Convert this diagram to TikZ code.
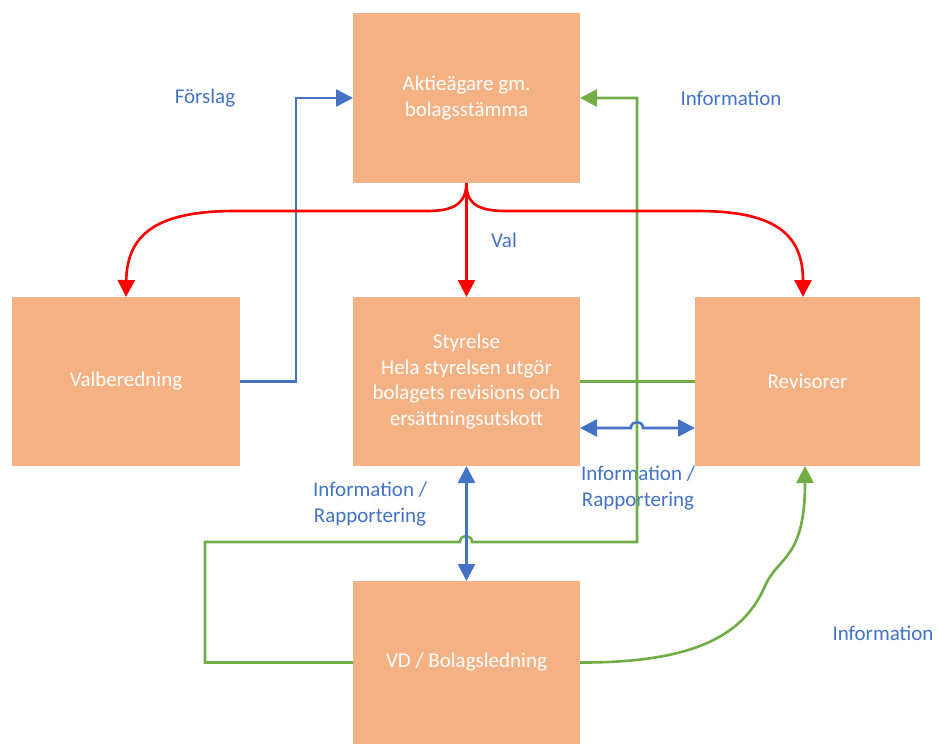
\documentclass[tikz,border=0pt]{standalone}
\usepackage{fontspec}
\setmainfont{Carlito}
\usetikzlibrary{arrows.meta}
\definecolor{boxfill}{HTML}{F4B183}
\definecolor{offblue}{HTML}{4472C4}
\definecolor{offgreen}{HTML}{70AD47}
\definecolor{offred}{HTML}{FF0000}
\tikzset{
  orgbox/.style={fill=boxfill, draw=none, inner sep=0pt, outer sep=0pt, text=white, align=center, font=\fontsize{21}{25.5}\selectfont},
  lbl/.style={text=offblue, align=center, font=\fontsize{21}{25.5}\selectfont, inner sep=0pt},
  tip/.style={-{Triangle[length=17pt,width=17pt]}},
  dtip/.style={{Triangle[length=17pt,width=17pt]}-{Triangle[length=17pt,width=17pt]}},
  redline/.style={draw=offred, line width=2.6pt},
  blueline/.style={draw=offblue, line width=2.6pt},
  greenline/.style={draw=offgreen, line width=2.6pt},
}
\begin{document}
\begin{tikzpicture}[x=1pt,y=-1pt]
\useasboundingbox (0,0) rectangle (937,744);
% boxes
\node[orgbox, minimum width=227pt, minimum height=170pt] (aktie) at (466.5,98) {Aktieägare gm.\\bolagsstämma};
\node[orgbox, minimum width=228pt, minimum height=169pt] (valb) at (126,381.5) {Valberedning};
\node[orgbox, minimum width=227pt, minimum height=169pt] (styr) at (466.5,381.5) {Styrelse\\Hela styrelsen utgör\\bolagets revisions och\\ersättningsutskott};
\node[orgbox, minimum width=225pt, minimum height=169pt] (revis) at (807.5,381.5) {Revisorer};
\node[orgbox, minimum width=227pt, minimum height=163pt] (vd) at (466.5,662.5) {VD / Bolagsledning};
% labels
\node[lbl] (lforslag) at (205,98) {Förslag};
\node[lbl] (linfo1) at (731,98) {Information};
\node[lbl] (lval) at (504,240) {Val};
\node[lbl] (linfo2) at (370,504) {Information /\\Rapportering};
\node[lbl] (linfo3) at (638,488) {Information /\\Rapportering};
\node[lbl] (linfo4) at (883,633) {Information};
% green lines (behind)
\draw[greenline] (styr.east) -- (revis.west);
\draw[greenline, tip] (vd.west) -- ++(-148,0) -- (205,542) -- (460,542)
  .. controls (460,534) and (472,534) .. (472,542) -- (637,542) -- (637,98) -- (aktie.east);
\draw[greenline, tip] (vd.east) .. controls (700,663) and (745,632) .. (765,586)
  .. controls (778,556) and (805,560) .. ([xshift=-2.5pt]revis.south);
% blue
\draw[blueline, tip] (valb.east) -- (296,381.5) |- (aktie.west);
\draw[blueline, dtip] ([yshift=-46.5pt]styr.east) -- (631,428)
  .. controls (631,420) and (643,420) .. (643,428) -- ([yshift=-46.5pt]revis.west);
\draw[blueline, dtip] (styr.south) -- (vd.north);
% red
\draw[redline, tip] (aktie.south) -- (styr.north);
\draw[redline, tip] (aktie.south) .. controls (466,205) and (452,211) .. (427,211) -- (235,211)
  .. controls (160,211) and (127,232) .. (valb.north);
\draw[redline, tip] (aktie.south) .. controls (466,205) and (480,211) .. (506,211) -- (697,211)
  .. controls (772,211) and (803,232) .. ([xshift=-4.5pt]revis.north);
\end{tikzpicture}
\end{document}
